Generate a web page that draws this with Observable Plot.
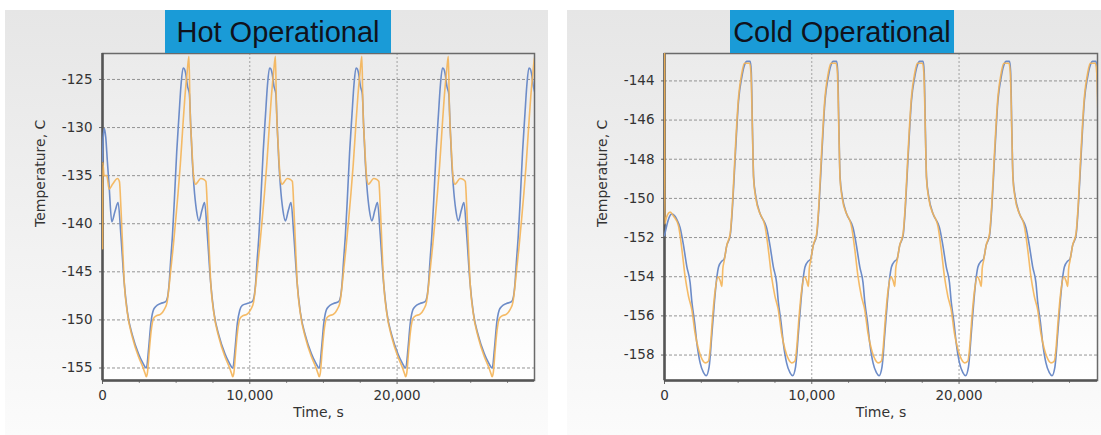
<!DOCTYPE html>
<html><head><meta charset="utf-8">
<script src="https://cdn.jsdelivr.net/npm/d3@7"></script>
<script src="https://cdn.jsdelivr.net/npm/@observablehq/plot@0.6"></script>
<style>
body{margin:0;background:#fff;}
#wrap{position:relative;width:1101px;height:435px;overflow:hidden;}
.bg{position:absolute;top:10px;height:425px;background:linear-gradient(#e6e6e6,#fbfbfb);}
.title{position:absolute;top:10px;height:43px;background:#1a9bd7;color:#10121c;font:29px "Liberation Sans",Arial,sans-serif;line-height:44px;text-align:center;z-index:2;white-space:nowrap;}
.chart{position:absolute;top:0;}
</style></head>
<body>
<div id="wrap">
  <div class="bg" style="left:5px;width:543px"></div>
  <div class="bg" style="left:567px;width:534px"></div>
  <div class="title" style="left:165px;width:226px">Hot Operational</div>
  <div class="title" style="left:730px;width:224px">Cold Operational</div>
  <div class="chart" id="hot" style="left:0"></div>
  <div class="chart" id="cold" style="left:556px"></div>
</div>
<script>
// ---------- Hot Operational ----------
const hotBlueT = [0,50,130,220,330,450,630,850,
 1060,1240,1465,1690,2030,2440,2710,2980,3130,3280,3450,3620,3950,4290,4420,4520,4620,4750,4880,5040,5200,5330,5470,5560,5650,5770,5900,5990,6100,6210,6380,6550,6750,
 6930,7110,7335,7560,7900,8310,8580,8850,9000,9150,9320,9490,9820,10160,10290,10390,10490,10620,10750,10910,11070,11200,11340,11430,11520,11640,11770,11860,11970,12080,12250,12420,12620,
 12800,12980,13205,13430,13770,14180,14450,14720,14870,15020,15190,15360,15690,16030,16160,16260,16360,16490,16620,16780,16940,17070,17210,17300,17390,17510,17640,17730,17840,17950,18120,18290,18490,
 18670,18850,19075,19300,19640,20050,20320,20590,20740,20890,21060,21230,21560,21900,22030,22130,22230,22360,22490,22650,22810,22940,23080,23170,23260,23380,23510,23600,23710,23820,23990,24160,24360,
 24540,24720,24945,25170,25510,25920,26190,26460,26610,26760,26930,27100,27430,27770,27900,28000,28100,28230,28360,28520,28680,28810,28950,29040,29130,29250,29380];
const hotBlueV = [-133.5,-131.0,-130.1,-131.0,-133.5,-136.1,-139.8,-138.7,
 -137.8,-141.0,-146.0,-149.2,-151.6,-153.5,-154.4,-155.0,-153.0,-150.4,-149.0,-148.6,-148.3,-148.1,-147.6,-146.3,-144.0,-141.2,-137.5,-132.5,-128.6,-125.6,-123.8,-123.9,-124.4,-125.7,-126.5,-129.8,-133.5,-136.1,-138.6,-139.7,-138.6,
 -137.8,-141.0,-146.0,-149.2,-151.6,-153.5,-154.4,-155.0,-153.0,-150.4,-149.0,-148.5,-148.3,-148.1,-147.6,-146.3,-144.0,-141.2,-137.5,-132.5,-128.6,-125.6,-123.8,-123.9,-124.4,-125.7,-126.5,-129.8,-133.5,-136.1,-138.6,-139.7,-138.6,
 -137.8,-141.0,-146.0,-149.2,-151.6,-153.5,-154.4,-155.0,-153.0,-150.4,-149.0,-148.6,-148.3,-148.1,-147.6,-146.3,-144.0,-141.2,-137.5,-132.5,-128.6,-125.6,-123.8,-123.9,-124.4,-125.7,-126.5,-129.8,-133.5,-136.1,-138.6,-139.7,-138.6,
 -137.8,-141.0,-146.0,-149.2,-151.6,-153.5,-154.4,-155.0,-153.0,-150.4,-149.0,-148.6,-148.3,-148.1,-147.6,-146.3,-144.0,-141.2,-137.5,-132.5,-128.6,-125.6,-123.8,-123.9,-124.4,-125.7,-126.5,-129.8,-133.5,-136.1,-138.6,-139.7,-138.6,
 -137.8,-141.0,-146.0,-149.2,-151.6,-153.5,-154.4,-155.0,-153.0,-150.4,-149.0,-148.6,-148.3,-148.1,-147.6,-146.3,-144.0,-141.2,-137.5,-132.5,-128.6,-125.6,-123.8,-123.9,-124.4,-125.7,-126.5];
const hotOrangeT = [0,15,110,290,450,680,1020,1150,
 1250,1350,1465,1690,2030,2440,2710,2900,2970,3050,3170,3300,3450,3620,3950,4200,4380,4500,4650,4800,4970,5130,5280,5450,5600,5750,5870,5940,6050,6210,6320,6450,6660,6890,7020,
 7120,7220,7335,7560,7900,8310,8580,8770,8840,8920,9040,9170,9320,9490,9820,10070,10250,10370,10520,10670,10840,11000,11150,11320,11470,11620,11740,11810,11920,12080,12190,12320,12530,12760,12890,
 12990,13090,13205,13430,13770,14180,14450,14640,14710,14790,14910,15040,15190,15360,15690,15940,16120,16240,16390,16540,16710,16870,17020,17190,17340,17490,17610,17680,17790,17950,18060,18190,18400,18630,18760,
 18860,18960,19075,19300,19640,20050,20320,20510,20580,20660,20780,20910,21060,21230,21560,21810,21990,22110,22260,22410,22580,22740,22890,23060,23210,23360,23480,23550,23660,23820,23930,24060,24270,24500,24630,
 24730,24830,24945,25170,25510,25920,26190,26380,26450,26530,26650,26780,26930,27100,27430,27680,27860,27980,28130,28280,28450,28610,28760,28930,29080,29230,29350,29420];
const hotOrangeV = [-142.6,-133.6,-135.0,-135.0,-136.4,-135.9,-135.3,-135.6,
 -138.3,-141.8,-145.8,-149.3,-151.8,-153.8,-154.8,-155.6,-155.9,-155.5,-153.3,-151.2,-149.9,-149.6,-149.4,-148.9,-148.2,-146.8,-144.6,-142.4,-139.6,-136.8,-133.9,-130.0,-126.7,-124.2,-122.6,-127.9,-131.6,-135.4,-135.9,-135.7,-135.3,-135.4,-135.6,
 -138.3,-141.8,-145.8,-149.3,-151.8,-153.8,-154.8,-155.6,-155.9,-155.5,-153.3,-151.2,-149.9,-149.6,-149.4,-148.9,-148.2,-146.8,-144.6,-142.4,-139.6,-136.8,-133.9,-130.0,-126.7,-124.2,-122.6,-127.9,-131.6,-135.4,-135.9,-135.7,-135.3,-135.4,-135.6,
 -138.3,-141.8,-145.8,-149.3,-151.8,-153.8,-154.8,-155.6,-155.9,-155.5,-153.3,-151.2,-149.9,-149.6,-149.4,-148.9,-148.2,-146.8,-144.6,-142.4,-139.6,-136.8,-133.9,-130.0,-126.7,-124.2,-122.6,-127.9,-131.6,-135.4,-135.9,-135.7,-135.3,-135.4,-135.6,
 -138.3,-141.8,-145.8,-149.3,-151.8,-153.8,-154.8,-155.6,-155.9,-155.5,-153.3,-151.2,-149.9,-149.6,-149.4,-148.9,-148.2,-146.8,-144.6,-142.4,-139.6,-136.8,-133.9,-130.0,-126.7,-124.2,-122.6,-127.9,-131.6,-135.4,-135.9,-135.7,-135.3,-135.4,-135.6,
 -138.3,-141.8,-145.8,-149.3,-151.8,-153.8,-154.8,-155.6,-155.9,-155.5,-153.3,-151.2,-149.9,-149.6,-149.4,-148.9,-148.2,-146.8,-144.6,-142.4,-139.6,-136.8,-133.9,-130.0,-126.7,-124.2,-122.6,-127.9];
const hotYTicks = [-155,-150,-145,-140,-135,-130,-125];

// ---------- Cold Operational ----------
const coldBlueT = [0,150,300,500,700,850,
 1060,1290,1520,1740,1860,2040,2200,2420,2650,2830,3030,3220,3400,3560,3670,3900,4050,4230,4460,4620,4800,5030,5250,5430,5590,5820,5890,5980,6050,6200,6500,6840,
 6930,7160,7390,7610,7730,7910,8070,8290,8520,8700,8900,9090,9270,9430,9540,9770,9920,10100,10330,10490,10670,10900,11120,11300,11460,11690,11760,11850,11920,12070,12370,12710,
 12800,13030,13260,13480,13600,13780,13940,14160,14390,14570,14770,14960,15140,15300,15410,15640,15790,15970,16200,16360,16540,16770,16990,17170,17330,17560,17630,17720,17790,17940,18240,18580,
 18670,18900,19130,19350,19470,19650,19810,20030,20260,20440,20640,20830,21010,21170,21280,21510,21660,21840,22070,22230,22410,22640,22860,23040,23200,23430,23500,23590,23660,23810,24110,24450,
 24540,24770,25000,25220,25340,25520,25680,25900,26130,26310,26510,26700,26880,27040,27150,27380,27530,27710,27940,28100,28280,28510,28730,28910,29070,29300,29370,29460];
const coldBlueV = [-151.9,-151.4,-151.0,-150.8,-150.9,-151.1,
 -151.5,-152.4,-153.5,-154.3,-155.3,-156.3,-157.4,-158.4,-158.9,-159.05,-158.6,-156.9,-155.2,-154.0,-153.5,-153.2,-153.1,-152.4,-151.9,-150.4,-147.9,-145.0,-143.8,-143.2,-143.0,-143.0,-143.5,-146.7,-148.9,-149.9,-150.8,-151.3,
 -151.5,-152.4,-153.5,-154.3,-155.3,-156.3,-157.4,-158.4,-158.9,-159.05,-158.6,-156.9,-155.2,-154.0,-153.5,-153.2,-153.1,-152.4,-151.9,-150.4,-147.9,-145.0,-143.8,-143.2,-143.0,-143.0,-143.5,-146.7,-148.9,-149.9,-150.8,-151.3,
 -151.5,-152.4,-153.5,-154.3,-155.3,-156.3,-157.4,-158.4,-158.9,-159.05,-158.6,-156.9,-155.2,-154.0,-153.5,-153.2,-153.1,-152.4,-151.9,-150.4,-147.9,-145.0,-143.8,-143.2,-143.0,-143.0,-143.5,-146.7,-148.9,-149.9,-150.8,-151.3,
 -151.5,-152.4,-153.5,-154.3,-155.3,-156.3,-157.4,-158.4,-158.9,-159.05,-158.6,-156.9,-155.2,-154.0,-153.5,-153.2,-153.1,-152.4,-151.9,-150.4,-147.9,-145.0,-143.8,-143.2,-143.0,-143.0,-143.5,-146.7,-148.9,-149.9,-150.8,-151.3,
 -151.5,-152.4,-153.5,-154.3,-155.3,-156.3,-157.4,-158.4,-158.9,-159.05,-158.6,-156.9,-155.2,-154.0,-153.5,-153.2,-153.1,-152.4,-151.9,-150.4,-147.9,-145.0,-143.8,-143.2,-143.0,-143.0,-143.5,-146.7];
const coldOrangeT = [0,15,120,385,610,
 950,1180,1400,1630,1860,2080,2310,2540,2760,2990,3100,3260,3440,3620,3780,3900,3960,4050,4230,4460,4620,4800,5030,5250,5430,5550,5780,5870,5980,6050,6200,6500,6700,
 6820,7050,7270,7500,7730,7950,8180,8410,8630,8860,8970,9130,9310,9490,9650,9770,9830,9920,10100,10330,10490,10670,10900,11120,11300,11420,11650,11740,11850,11920,12070,12370,12570,
 12690,12920,13140,13370,13600,13820,14050,14280,14500,14730,14840,15000,15180,15360,15520,15640,15700,15790,15970,16200,16360,16540,16770,16990,17170,17290,17520,17610,17720,17790,17940,18240,18440,
 18560,18790,19010,19240,19470,19690,19920,20150,20370,20600,20710,20870,21050,21230,21390,21510,21570,21660,21840,22070,22230,22410,22640,22860,23040,23160,23390,23480,23590,23660,23810,24110,24310,
 24430,24660,24880,25110,25340,25560,25790,26020,26240,26470,26580,26740,26920,27100,27260,27380,27440,27530,27710,27940,28100,28280,28510,28730,28910,29030,29260,29350,29460];
const coldOrangeV = [-142.6,-151.3,-151.0,-150.7,-150.9,
 -151.4,-152.6,-154.0,-155.0,-155.7,-156.9,-157.7,-158.2,-158.4,-158.3,-157.7,-156.1,-154.7,-154.0,-154.2,-154.5,-153.6,-153.2,-152.4,-151.8,-150.2,-147.6,-144.8,-143.6,-143.1,-143.1,-143.1,-143.6,-146.9,-149.0,-150.0,-150.8,-151.1,
 -151.4,-152.6,-154.0,-155.0,-155.7,-156.9,-157.7,-158.2,-158.4,-158.3,-157.7,-156.1,-154.7,-154.0,-154.2,-154.5,-153.6,-153.2,-152.4,-151.8,-150.2,-147.6,-144.8,-143.6,-143.1,-143.1,-143.1,-143.6,-146.9,-149.0,-150.0,-150.8,-151.1,
 -151.4,-152.6,-154.0,-155.0,-155.7,-156.9,-157.7,-158.2,-158.4,-158.3,-157.7,-156.1,-154.7,-154.0,-154.2,-154.5,-153.6,-153.2,-152.4,-151.8,-150.2,-147.6,-144.8,-143.6,-143.1,-143.1,-143.1,-143.6,-146.9,-149.0,-150.0,-150.8,-151.1,
 -151.4,-152.6,-154.0,-155.0,-155.7,-156.9,-157.7,-158.2,-158.4,-158.3,-157.7,-156.1,-154.7,-154.0,-154.2,-154.5,-153.6,-153.2,-152.4,-151.8,-150.2,-147.6,-144.8,-143.6,-143.1,-143.1,-143.1,-143.6,-146.9,-149.0,-150.0,-150.8,-151.1,
 -151.4,-152.6,-154.0,-155.0,-155.7,-156.9,-157.7,-158.2,-158.4,-158.3,-157.7,-156.1,-154.7,-154.0,-154.2,-154.5,-153.6,-153.2,-152.4,-151.8,-150.2,-147.6,-144.8,-143.6,-143.1,-143.1,-143.1,-143.6,-146.9];
const coldYTicks = [-158,-156,-154,-152,-150,-148,-146,-144];

const xTicks = [0, 10000, 20000];
const xMinorTicks = [2500,5000,7500,12500,15000,17500,22500,25000,27500];
const xLabel = "Time, s";
const yLabel = "Temperature, C";

function rows(T, V) { return T.map((t, i) => ({t, v: V[i]})); }

function panel(cfg) {
  const {blueT, blueV, orangeT, orangeV, xMax, yDomain, yTicks, width, ml, mr, gid} = cfg;
  const mt = 53, mb = 55, height = 435;
  const chart = Plot.plot({
    width, height, marginLeft: ml, marginRight: mr, marginTop: mt, marginBottom: mb,
    style: {background: "transparent", fontFamily: "'DejaVu Sans', sans-serif", fontSize: "13.5px", color: "#333", overflow: "visible"},
    x: {domain: [0, xMax], label: null},
    y: {domain: yDomain, label: null},
    marks: [
      Plot.frame({fill: `url(#${gid})`, stroke: null}),
      Plot.gridY(yTicks, {stroke: "#8a8a8a", strokeOpacity: 0.9, strokeDasharray: "3,2"}),
      Plot.gridX(xTicks, {stroke: "#9a9a9a", strokeOpacity: 0.9, strokeDasharray: "2,2"}),
      Plot.axisX(xMinorTicks, {tickSize: 3, text: null, label: null, stroke: "#888"}),
      Plot.axisX(xTicks, {tickSize: 4, tickPadding: 6, tickFormat: d3.format(","), label: null, stroke: "#666"}),
      Plot.axisY(yTicks, {tickSize: 3, tickPadding: 7, tickFormat: d => String(d), label: null, stroke: "#666"}),
      Plot.frame({stroke: "#6a6a6a", strokeWidth: 1.5}),
      Plot.ruleX([0], {stroke: "#555", strokeWidth: 2.5}),
      Plot.ruleY([yDomain[0]], {stroke: "#555", strokeWidth: 2.5}),
      Plot.line(rows(blueT, blueV), {x: "t", y: "v", stroke: "#6d8cc8", strokeWidth: 1.6, curve: "monotone-x", clip: true}),
      Plot.line(rows(orangeT, orangeV), {x: "t", y: "v", stroke: "#f4b457", strokeWidth: 1.6, strokeOpacity: 0.9, curve: "monotone-x", clip: true}),
      Plot.text([xLabel], {frameAnchor: "bottom", dy: 36, fontSize: 14, fill: "#333"}),
      Plot.text([yLabel], {frameAnchor: "left", dx: -62, dy: 10, rotate: -90, fontSize: 14, fill: "#333"})
    ]
  });
  const svg = d3.select(chart);
  const g = svg.insert("defs", ":first-child").append("linearGradient")
    .attr("id", gid).attr("x1", 0).attr("y1", 0).attr("x2", 0).attr("y2", 1);
  g.append("stop").attr("offset", "0%").attr("stop-color", "#ebebeb");
  g.append("stop").attr("offset", "100%").attr("stop-color", "#ffffff");
  return chart;
}

document.getElementById("hot").appendChild(panel({
  blueT: hotBlueT, blueV: hotBlueV, orangeT: hotOrangeT, orangeV: hotOrangeV,
  xMax: 29330, yDomain: [-156.3, -122.3], yTicks: hotYTicks,
  width: 545, ml: 102, mr: 11, gid: "gHot"
}));
document.getElementById("cold").appendChild(panel({
  blueT: coldBlueT, blueV: coldBlueV, orangeT: coldOrangeT, orangeV: coldOrangeV,
  xMax: 29400, yDomain: [-159.3, -142.6], yTicks: coldYTicks,
  width: 545, ml: 108, mr: 4, gid: "gCold"
}));
</script>
</body></html>
